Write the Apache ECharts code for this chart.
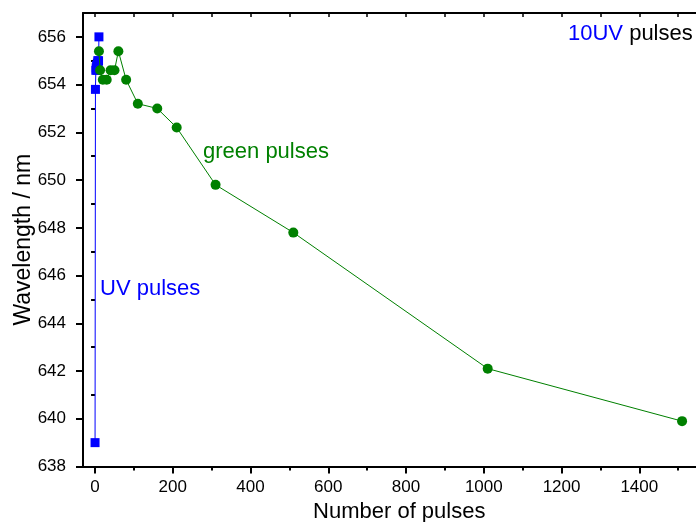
<!DOCTYPE html>
<html>
<head>
<meta charset="utf-8">
<script src="https://cdn.jsdelivr.net/npm/echarts@6/dist/echarts.min.js"></script>
<style>
html,body{margin:0;padding:0;background:#fff;}
#chart{width:696px;height:522px;}
</style>
</head>
<body>
<div id="chart"></div>
<script>
// UV pulses (blue squares)
const uvX = [0, 1, 2, 3, 4, 5, 6, 7, 8, 9, 10];
const uvY = [639.0, 653.8, 654.6, 654.7, 654.8, 654.6, 654.9, 655.0, 654.8, 655.0, 656.0];
// green pulses (green circles)
const greenX = [10, 13, 20, 30, 40, 50, 60, 80, 110, 160, 210, 310, 510, 1010, 1510];
const greenY = [655.4, 654.6, 654.2, 654.2, 654.6, 654.6, 655.4, 654.2, 653.2, 653.0, 652.2, 649.8, 647.8, 642.1, 639.9];
// tick labels
const xTicks = [0, 200, 400, 600, 800, 1000, 1200, 1400];
const xMinorTicks = [100, 300, 500, 700, 900, 1100, 1300, 1500];
const xTopTicks = [0, 100, 200, 300, 400, 500, 600, 700, 800, 900, 1000, 1100, 1200, 1300, 1400, 1500];
const yTicks = [638, 640, 642, 644, 646, 648, 650, 652, 654, 656];
const yMinorTicks = [639, 641, 643, 645, 647, 649, 651, 653, 655];

const FONT = '"Liberation Sans", Arial, sans-serif';
const X_MIN = -31, X_MAX = 1560, Y_MIN = 638, Y_MAX = 657;

const chart = echarts.init(document.getElementById('chart'), null, {renderer: 'canvas'});

const axisLine = {show: true, onZero: false, lineStyle: {color: '#000', width: 2}};
const plain = v => String(v);

chart.setOption({
  animation: false,
  backgroundColor: '#fff',
  grid: {left: 83, right: -5.5, top: 13, bottom: 55.5, containLabel: false, outerBoundsMode: 'none'},
  xAxis: [
    {
      type: 'value', position: 'bottom', min: X_MIN, max: X_MAX,
      axisLine: axisLine,
      axisTick: {show: true, customValues: xTicks, length: 7, lineStyle: {color: '#000', width: 2}},
      axisLabel: {customValues: xTicks, formatter: plain, color: '#000', fontFamily: FONT, fontSize: 17, margin: 12},
      splitLine: {show: false},
      name: 'Number of pulses', nameLocation: 'middle', nameGap: 34, nameMoveOverlap: false,
      nameTextStyle: {color: '#000', fontFamily: FONT, fontSize: 22, padding: [0, 0, 0, 14]}
    },
    {
      type: 'value', position: 'bottom', min: X_MIN, max: X_MAX,
      axisLine: {show: false},
      axisTick: {show: true, customValues: xMinorTicks, length: 4, lineStyle: {color: '#000', width: 2}},
      axisLabel: {show: false},
      splitLine: {show: false}
    },
    {
      type: 'value', position: 'top', min: X_MIN, max: X_MAX,
      axisLine: axisLine,
      axisTick: {show: true, inside: true, customValues: xTopTicks, length: 4, lineStyle: {color: '#000', width: 1.5}},
      axisLabel: {show: false},
      splitLine: {show: false}
    }
  ],
  yAxis: [
    {
      type: 'value', position: 'left', min: Y_MIN, max: Y_MAX,
      axisLine: axisLine,
      axisTick: {show: true, customValues: yTicks, length: 7, lineStyle: {color: '#000', width: 2}},
      axisLabel: {customValues: yTicks, formatter: plain, color: '#000', fontFamily: FONT, fontSize: 17, margin: 17},
      splitLine: {show: false},
      name: 'Wavelength / nm', nameLocation: 'middle', nameGap: 48, nameMoveOverlap: false,
      nameTextStyle: {color: '#000', fontFamily: FONT, fontSize: 23}
    },
    {
      type: 'value', position: 'left', min: Y_MIN, max: Y_MAX,
      axisLine: {show: false},
      axisTick: {show: true, customValues: yMinorTicks, length: 4, lineStyle: {color: '#000', width: 2}},
      axisLabel: {show: false},
      splitLine: {show: false}
    }
  ],
  series: [
    {
      name: 'UV pulses', type: 'line', xAxisIndex: 0, yAxisIndex: 0,
      data: uvX.map((x, i) => [x, uvY[i]]),
      symbol: 'rect', symbolSize: 9,
      itemStyle: {color: '#0000ff'},
      lineStyle: {color: '#0000ff', width: 1},
      z: 2
    },
    {
      name: 'green pulses', type: 'line', xAxisIndex: 0, yAxisIndex: 0,
      data: greenX.map((x, i) => [x, greenY[i]]),
      symbol: 'circle', symbolSize: 10,
      itemStyle: {color: '#008000'},
      lineStyle: {color: '#008000', width: 1},
      z: 3
    }
  ],
  graphic: [
    {
      type: 'text', left: 568, top: 23,
      style: {
        text: '{b|10UV}{k| pulses}',
        rich: {
          b: {fill: '#0000ff', fontFamily: FONT, fontSize: 22},
          k: {fill: '#000', fontFamily: FONT, fontSize: 22}
        }
      }
    },
    {
      type: 'text', left: 100, top: 278,
      style: {text: 'UV pulses', fill: '#0000ff', fontFamily: FONT, fontSize: 22}
    },
    {
      type: 'text', left: 203, top: 141,
      style: {text: 'green pulses', fill: '#008000', fontFamily: FONT, fontSize: 22}
    }
  ]
});
</script>
</body>
</html>
